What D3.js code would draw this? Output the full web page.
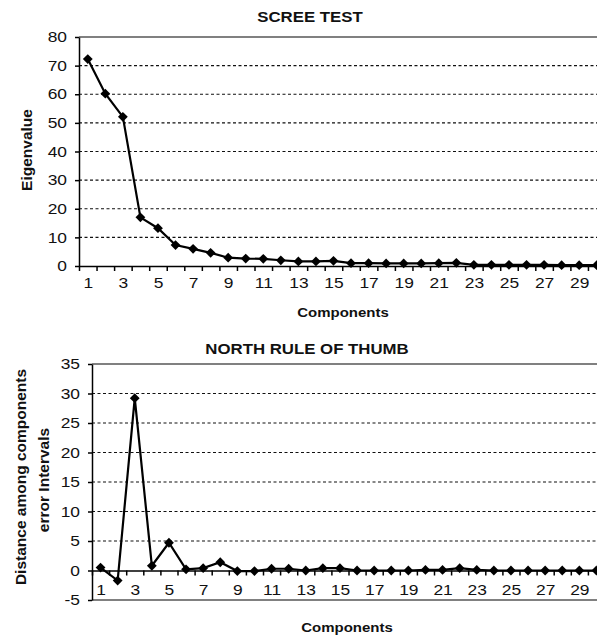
<!DOCTYPE html>
<html>
<head>
<meta charset="utf-8">
<script src="https://d3js.org/d3.v7.min.js"></script>
<style>
  body { margin: 0; background: #fff; }
  text { font-family: "Liberation Sans", Arial, sans-serif; fill: #111; }
</style>
</head>
<body>
<script>
// data
var components = d3.range(1, 31);
var eigenvalues = [72.3, 60.2, 52.1, 17.0, 13.2, 7.3, 6.0, 4.6, 2.9, 2.6,
                   2.5, 2.0, 1.6, 1.6, 1.8, 1.0, 1.0, 0.9, 0.9, 0.9,
                   1.0, 1.1, 0.4, 0.4, 0.4, 0.4, 0.4, 0.3, 0.3, 0.3];
var distances = [0.5, -1.7, 29.2, 0.8, 4.7, 0.2, 0.4, 1.4, -0.1, -0.1,
                 0.3, 0.3, 0.0, 0.4, 0.4, 0.0, 0.0, 0.0, 0.0, 0.1,
                 0.1, 0.4, 0.1, 0.0, 0.0, 0.0, 0.0, 0.0, 0.0, 0.0];
var screeTicks = [0, 10, 20, 30, 40, 50, 60, 70, 80];
var northTicks = [-5, 0, 5, 10, 15, 20, 25, 30, 35];
var xLabels = [1, 3, 5, 7, 9, 11, 13, 15, 17, 19, 21, 23, 25, 27, 29];

var svg = d3.select("body").append("svg")
    .attr("width", 597)
    .attr("height", 639);

// text in the picture is a bit wider than it is tall
var stretch = "scale(1.2,1)";

function label(x, y, str, size, weight) {
  svg.append("g")
      .attr("transform", "translate(" + x + "," + y + ")")
    .append("text")
      .attr("transform", stretch)
      .attr("text-anchor", "middle")
      .style("font-size", size + "px")
      .style("font-weight", weight)
      .text(str);
}

function drawPanel(p) {
  var g = svg.append("g")
      .attr("transform", "translate(" + p.left + "," + p.top + ")");

  var x = d3.scaleLinear().domain([0.5, components.length + 0.5]).range([0, p.width]);
  var y = d3.scaleLinear().domain(p.yDomain).range([p.height, 0]);

  // dashed gridlines
  g.append("g").selectAll("line")
    .data(p.grid)
    .join("line")
      .attr("x1", 0).attr("x2", p.width)
      .attr("y1", d => y(d)).attr("y2", d => y(d))
      .attr("stroke", "#111")
      .attr("stroke-width", 1.2)
      .attr("stroke-dasharray", "3,2.5");

  // grey frame lines
  var frame = [p.yDomain[1]];
  if (p.bottomFrame) frame.push(p.yDomain[0]);
  g.append("g").selectAll("line")
    .data(frame)
    .join("line")
      .attr("x1", 0).attr("x2", p.width)
      .attr("y1", d => y(d)).attr("y2", d => y(d))
      .attr("stroke", "#808080")
      .attr("stroke-width", 2);

  // y axis
  var yAxis = g.append("g")
      .call(d3.axisLeft(y).tickValues(p.yTicks).tickSize(4).tickSizeOuter(0)
        .tickFormat(d => String(d)));
  yAxis.select(".domain").attr("stroke", "#000").attr("stroke-width", 1.5);
  yAxis.selectAll("line").attr("stroke-width", 1.5);
  yAxis.selectAll("text")
      .attr("x", -10)
      .attr("transform", stretch)
      .style("font-size", "14.5px");

  // x axis on the zero line, ticks between categories
  var xAxis = g.append("g")
      .attr("transform", "translate(0," + y(0) + ")")
      .call(d3.axisBottom(x)
        .tickValues(d3.range(0.5, components.length + 1, 1))
        .tickSize(5).tickSizeOuter(0).tickFormat(""));
  xAxis.select(".domain").attr("stroke", "#000").attr("stroke-width", 1.5);
  xAxis.selectAll("line").attr("stroke-width", 1.5);

  var xLab = g.append("g")
      .attr("transform", "translate(0," + (y(0) + p.labelGap) + ")")
      .call(d3.axisBottom(x).tickValues(xLabels).tickSize(0).tickPadding(0));
  xLab.select(".domain").remove();
  xLab.selectAll("text")
      .attr("transform", stretch)
      .style("font-size", "14.5px");

  // series
  var line = d3.line()
      .x((d, i) => x(components[i]))
      .y(d => y(d));

  g.append("path")
      .datum(p.values)
      .attr("fill", "none")
      .attr("stroke", "#000")
      .attr("stroke-width", 2.2)
      .attr("d", line);

  g.append("g").selectAll("path")
    .data(p.values)
    .join("path")
      .attr("d", d3.symbol().type(d3.symbolSquare).size(48))
      .attr("transform", (d, i) => "translate(" + x(components[i]) + "," + y(d) + ") rotate(45)")
      .attr("fill", "#000");
}

drawPanel({
  left: 79, top: 37, width: 526.5, height: 229,
  yDomain: [0, 80], yTicks: screeTicks, grid: [10, 20, 30, 40, 50, 60, 70],
  values: eigenvalues, labelGap: 12, bottomFrame: false
});

drawPanel({
  left: 92, top: 364, width: 513, height: 236,
  yDomain: [-5, 35], yTicks: northTicks, grid: [5, 10, 15, 20, 25, 30],
  values: distances, labelGap: 14, bottomFrame: true
});

// titles and axis names
label(310, 22, "SCREE TEST", 14, "bold");
label(343, 317, "Components", 12.5, "bold");
label(307, 354, "NORTH RULE OF THUMB", 14, "bold");
label(347, 632, "Components", 12.5, "bold");

svg.append("text")
    .attr("transform", "translate(32,150) rotate(-90)")
    .attr("text-anchor", "middle")
    .style("font-size", "15.5px")
    .style("font-weight", "bold")
    .text("Eigenvalue");

svg.append("text")
    .attr("transform", "translate(26,477) rotate(-90)")
    .attr("text-anchor", "middle")
    .style("font-size", "15.5px")
    .style("font-weight", "bold")
    .text("Distance among components");

svg.append("text")
    .attr("transform", "translate(49,480) rotate(-90)")
    .attr("text-anchor", "middle")
    .style("font-size", "15.5px")
    .style("font-weight", "bold")
    .text("error Intervals");
</script>
</body>
</html>
